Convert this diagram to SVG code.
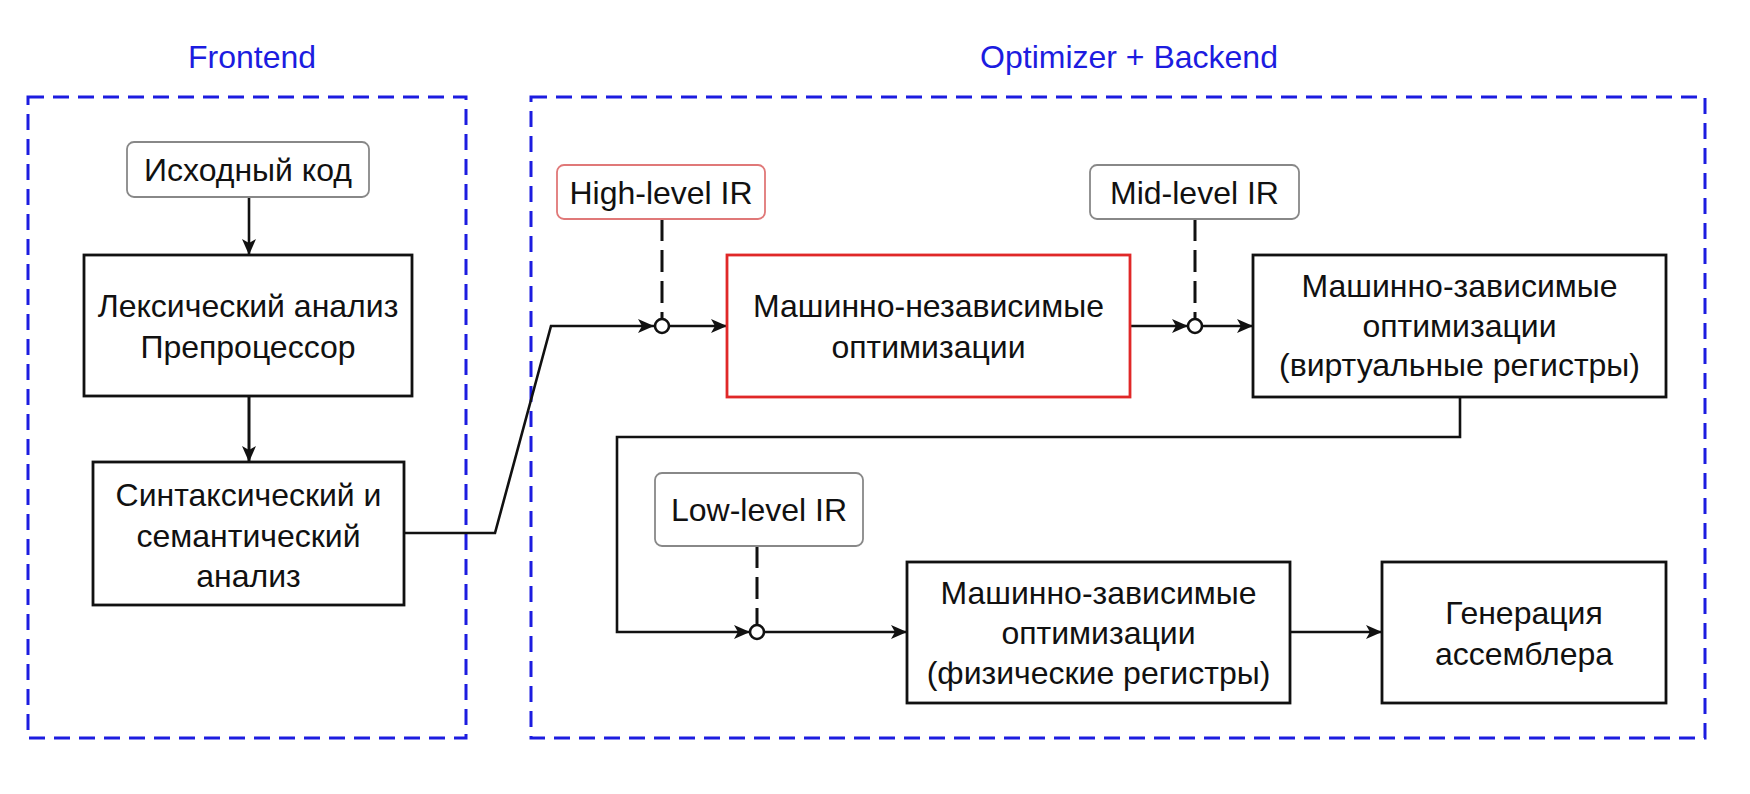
<svg xmlns="http://www.w3.org/2000/svg" width="1750" height="794" viewBox="0 0 1750 794">
<style>
text{font-family:"Liberation Sans",Arial,sans-serif;font-size:32px;fill:#111;text-anchor:middle}
.title{fill:#1c1ce0}
.group{fill:none;stroke:#1c1ce0;stroke-width:3;stroke-dasharray:16 9}
.box{fill:#fff;stroke:#111;stroke-width:2.8}
.red{fill:#fff;stroke:#e02828;stroke-width:2.8}
.ir{fill:#fff;stroke:#888;stroke-width:1.8}
.irred{fill:#fff;stroke:#e07878;stroke-width:1.8}
.line{fill:none;stroke:#111;stroke-width:2.6}
.dash{fill:none;stroke:#111;stroke-width:3;stroke-dasharray:22 9}
.dot{fill:#fff;stroke:#111;stroke-width:2.6}
</style>
<defs>
<marker id="arr" markerUnits="userSpaceOnUse" markerWidth="18" markerHeight="14" refX="16" refY="7" orient="auto">
<path d="M0,0 L16,7 L0,14 L4,7 z" fill="#111"/>
</marker>
</defs>
<rect width="1750" height="794" fill="#fff"/>

<g id="frontend">
<rect class="group" x="28" y="97" width="438" height="641"/>
<text class="title" x="252" y="68">Frontend</text>
</g>
<g id="backend">
<rect class="group" x="531" y="97" width="1174" height="641"/>
<text class="title" x="1129" y="68">Optimizer + Backend</text>
</g>

<g id="connectors">
<path class="line" d="M249,197 L249,255" marker-end="url(#arr)"/>
<path class="line" style="stroke-width:3" d="M249,396 L249,462" marker-end="url(#arr)"/>
<path class="line" d="M404,533 L495,533 L551,326 L654,326" marker-end="url(#arr)"/>
<path class="line" d="M669,326 L727,326" marker-end="url(#arr)"/>
<path class="line" d="M1130,326 L1188,326" marker-end="url(#arr)"/>
<path class="line" d="M1202,326 L1253,326" marker-end="url(#arr)"/>
<path class="line" d="M1460,397 L1460,437 L617,437 L617,632 L750,632" marker-end="url(#arr)"/>
<path class="line" d="M764,632 L907,632" marker-end="url(#arr)"/>
<path class="line" d="M1290,632 L1382,632" marker-end="url(#arr)"/>
<path class="dash" d="M662,219 L662,319"/>
<path class="dash" d="M1195,219 L1195,319"/>
<path class="dash" d="M757,546 L757,625"/>
<circle class="dot" cx="662" cy="326" r="7"/>
<circle class="dot" cx="1195" cy="326" r="7"/>
<circle class="dot" cx="757" cy="632" r="7"/>
</g>

<g id="source">
<rect class="ir" x="127" y="142" width="242" height="55" rx="7"/>
<text x="248" y="181">Исходный код</text>
</g>
<g id="lexer">
<rect class="box" x="84" y="255" width="328" height="141"/>
<text x="248" y="317">Лексический анализ</text>
<text x="248" y="358">Препроцессор</text>
</g>
<g id="parser">
<rect class="box" x="93" y="462" width="311" height="143"/>
<text x="248.5" y="506">Синтаксический и</text>
<text x="248.5" y="547">семантический</text>
<text x="248.5" y="587">анализ</text>
</g>
<g id="high-ir">
<rect class="irred" x="557" y="165" width="208" height="54" rx="7"/>
<text x="661" y="204">High-level IR</text>
</g>
<g id="mi-opt">
<rect class="red" x="727" y="255" width="403" height="142"/>
<text x="928.5" y="317">Машинно-независимые</text>
<text x="928.5" y="358">оптимизации</text>
</g>
<g id="mid-ir">
<rect class="ir" x="1090" y="165" width="209" height="54" rx="7"/>
<text x="1194.5" y="204">Mid-level IR</text>
</g>
<g id="md-virtual">
<rect class="box" x="1253" y="255" width="413" height="142"/>
<text x="1459.5" y="297">Машинно-зависимые</text>
<text x="1459.5" y="337">оптимизации</text>
<text x="1459.5" y="376">(виртуальные регистры)</text>
</g>
<g id="low-ir">
<rect class="ir" x="655" y="473" width="208" height="73" rx="7"/>
<text x="759" y="521">Low-level IR</text>
</g>
<g id="md-physical">
<rect class="box" x="907" y="562" width="383" height="141"/>
<text x="1098.5" y="604">Машинно-зависимые</text>
<text x="1098.5" y="644">оптимизации</text>
<text x="1098.5" y="684">(физические регистры)</text>
</g>
<g id="codegen">
<rect class="box" x="1382" y="562" width="284" height="141"/>
<text x="1524" y="624">Генерация</text>
<text x="1524" y="665">ассемблера</text>
</g>
</svg>
